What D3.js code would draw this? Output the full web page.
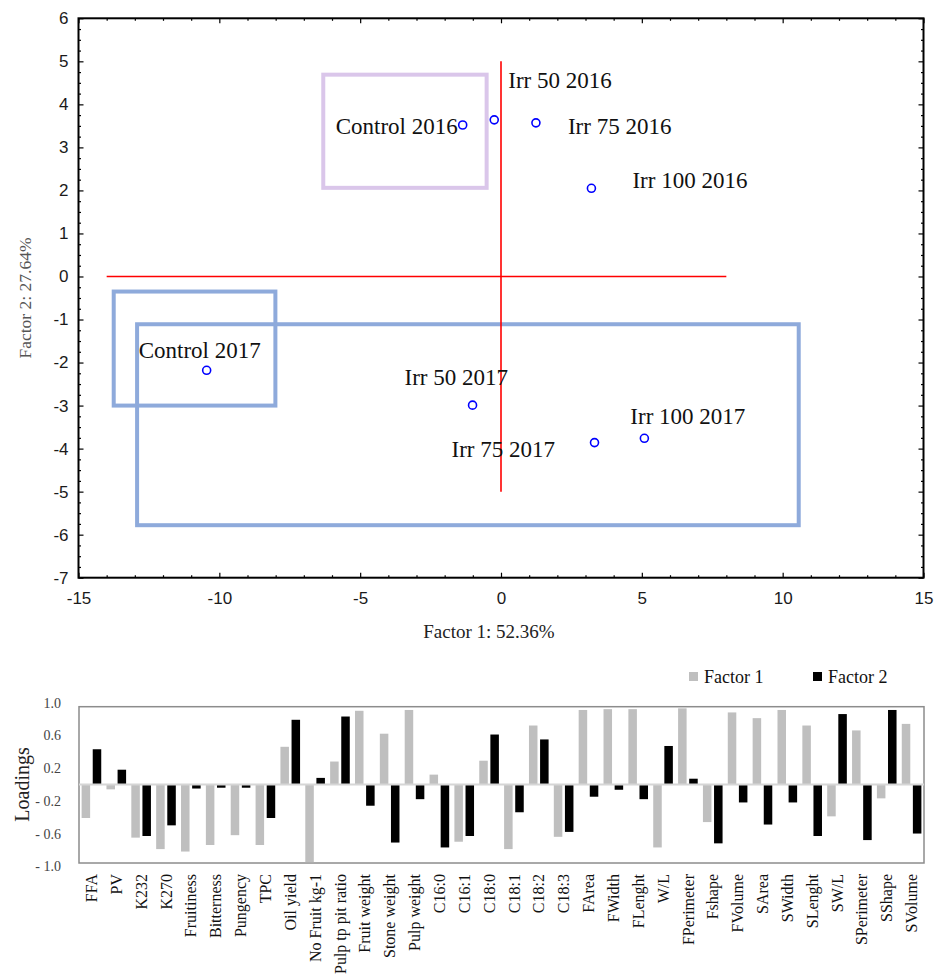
<!DOCTYPE html>
<html>
<head>
<meta charset="utf-8">
<script src="https://cdn.jsdelivr.net/npm/d3@7"></script>
<style>
  body { margin: 0; background: #fff; }
  svg { display: block; }
</style>
</head>
<body>
<svg id="chart" width="934" height="976"></svg>
<script>
// ---- score plot data ----
const sampleNames = ["Control 2016", "Irr 50 2016", "Irr 75 2016", "Irr 100 2016",
                     "Control 2017", "Irr 50 2017", "Irr 75 2017", "Irr 100 2017"];
const factor1Scores = [-1.36, -0.24, 1.24, 3.21, -10.45, -1.01, 3.32, 5.09];
const factor2Scores = [3.52, 3.64, 3.57, 2.05, -2.18, -2.99, -3.86, -3.76];

// group boxes drawn round the samples (data units)
const boxX0 = [-6.31, -13.75, -12.92];
const boxX1 = [-0.51, -8.01, 10.57];
const boxY0 = [4.69, -0.35, -1.11];
const boxY1 = [2.06, -3.00, -5.78];

// red reference cross
const crossXRange = [-14, 8];
const crossYRange = [5, -5];

// ---- loadings data ----
const categories = ["FFA", "PV", "K232", "K270", "Fruitiness", "Bitterness", "Pungency", "TPC",
  "Oil yield", "No Fruit kg-1", "Pulp tp pit ratio", "Fruit weight", "Stone weight", "Pulp weight",
  "C16:0", "C16:1", "C18:0", "C18:1", "C18:2", "C18:3", "FArea", "FWidth", "FLenght", "W/L",
  "FPerimeter", "Fshape", "FVolume", "SArea", "SWidth", "SLenght", "SW/L", "SPerimeter", "SShape", "SVolume"];
const factor1Loadings = [-0.41, -0.06, -0.65, -0.79, -0.82, -0.74, -0.62, -0.74,
  0.46, -0.95, 0.28, 0.90, 0.62, 0.91,
  0.12, -0.70, 0.29, -0.79, 0.72, -0.64, 0.91, 0.92, 0.92, -0.77,
  0.93, -0.46, 0.88, 0.81, 0.91, 0.72, -0.39, 0.66, -0.17, 0.74];
const factor2Loadings = [0.43, 0.18, -0.63, -0.50, -0.05, -0.04, -0.04, -0.41,
  0.79, 0.08, 0.83, -0.26, -0.71, -0.18,
  -0.77, -0.63, 0.61, -0.34, 0.55, -0.58, -0.15, -0.065, -0.18, 0.47,
  0.07, -0.72, -0.22, -0.49, -0.22, -0.63, 0.86, -0.68, 0.91, -0.60];
const loadingTicks = [1.0, 0.6, 0.2, -0.2, -0.6, -1.0];
const seriesNames = ["Factor 1", "Factor 2"];

const svg = d3.select('#chart');
const serif = '"Liberation Serif", "Times New Roman", serif';
const sans = '"Liberation Sans", Arial, sans-serif';

// ================= score plot =================
const x = d3.scaleLinear().domain([-15, 15]).range([78.5, 923.5]);
const y = d3.scaleLinear().domain([-7, 6]).range([577.7, 18.3]);

const score = svg.append('g');

score.selectAll('rect.box')
  .data(d3.range(boxX0.length))
  .join('rect')
  .attr('class', 'box')
  .attr('x', i => x(boxX0[i]))
  .attr('y', i => y(boxY0[i]))
  .attr('width', i => x(boxX1[i]) - x(boxX0[i]))
  .attr('height', i => y(boxY1[i]) - y(boxY0[i]))
  .attr('fill', 'none')
  .attr('stroke', (d, i) => i === 0 ? '#dac6ea' : '#8eaadb')
  .attr('stroke-width', 4);

score.append('line')
  .attr('x1', x(crossXRange[0])).attr('x2', x(crossXRange[1]))
  .attr('y1', y(0)).attr('y2', y(0))
  .attr('stroke', '#ff0000').attr('stroke-width', 1.6);
score.append('line')
  .attr('x1', x(0)).attr('x2', x(0))
  .attr('y1', y(crossYRange[0])).attr('y2', y(crossYRange[1]))
  .attr('stroke', '#ff0000').attr('stroke-width', 1.6);

// pixel offsets of each label from its point
const labelOffset = [[-127, 1], [14, -40], [32, 3], [41, -8], [-68, -20], [-68, -28], [-143, 6], [-14, -22]];

score.selectAll('text.sample')
  .data(sampleNames)
  .join('text')
  .attr('class', 'sample')
  .attr('x', (d, i) => x(factor1Scores[i]) + labelOffset[i][0])
  .attr('y', (d, i) => y(factor2Scores[i]) + labelOffset[i][1])
  .attr('dy', '0.35em')
  .style('font-family', serif)
  .style('font-size', '23px')
  .attr('fill', '#111')
  .text(d => d);

score.selectAll('circle.pt')
  .data(sampleNames)
  .join('circle')
  .attr('class', 'pt')
  .attr('cx', (d, i) => x(factor1Scores[i]))
  .attr('cy', (d, i) => y(factor2Scores[i]))
  .attr('r', 4)
  .attr('fill', 'none')
  .attr('stroke', '#0000ff')
  .attr('stroke-width', 1.6);

// axes with inward ticks
const yMajor = d3.range(-7, 7);
const yMinor = d3.range(-7, 6.001, 0.25).filter(v => Math.abs(v - Math.round(v)) > 1e-6);
const xMajor = d3.range(-15, 16, 5);
const xMinor = d3.range(-15, 16).filter(v => v % 5 !== 0);
const plain = d => String(d);

function addAxis(axis, tx, ty) {
  const g = score.append('g').attr('transform', `translate(${tx},${ty})`).call(axis);
  g.select('.domain').remove();
  g.selectAll('line').attr('stroke', '#000').attr('stroke-width', 1.2);
  g.selectAll('text').style('font-family', sans).style('font-size', '17px').attr('fill', '#1a1a1a');
  return g;
}

addAxis(d3.axisLeft(y).tickValues(yMajor).tickSize(-5).tickPadding(10).tickFormat(plain), x(-15), 0);
addAxis(d3.axisLeft(y).tickValues(yMinor).tickSize(-2.5).tickFormat(''), x(-15), 0);
addAxis(d3.axisRight(y).tickValues(yMajor).tickSize(-5).tickFormat(''), x(15), 0);
addAxis(d3.axisRight(y).tickValues(yMinor).tickSize(-2.5).tickFormat(''), x(15), 0);
addAxis(d3.axisBottom(x).tickValues(xMajor).tickSize(-5).tickPadding(14).tickFormat(plain), 0, y(-7));
addAxis(d3.axisBottom(x).tickValues(xMinor).tickSize(-2.5).tickFormat(''), 0, y(-7));
addAxis(d3.axisTop(x).tickValues(xMajor).tickSize(-5).tickFormat(''), 0, y(6));
addAxis(d3.axisTop(x).tickValues(xMinor).tickSize(-2.5).tickFormat(''), 0, y(6));

score.append('rect')
  .attr('x', x(-15)).attr('y', y(6))
  .attr('width', x(15) - x(-15)).attr('height', y(-7) - y(6))
  .attr('fill', 'none').attr('stroke', '#000').attr('stroke-width', 2);

score.append('text')
  .attr('x', (x(-15) + x(15)) / 2 - 12)
  .attr('y', 638)
  .attr('text-anchor', 'middle')
  .style('font-family', serif).style('font-size', '19px').attr('fill', '#222')
  .text('Factor 1: 52.36%');

score.append('text')
  .attr('transform', `translate(31,${y(-0.5)}) rotate(-90)`)
  .attr('text-anchor', 'middle')
  .style('font-family', serif).style('font-size', '17.5px').attr('fill', '#555')
  .text('Factor 2: 27.64%');

// ================= loadings bar chart =================
const x0 = d3.scaleBand().domain(categories).range([79, 924]).paddingInner(0.21).paddingOuter(0.105);
const x1 = d3.scaleBand().domain(seriesNames).range([0, x0.bandwidth()]).paddingInner(0.234);
const yL = d3.scaleLinear().domain([-0.96, 0.95]).range([863, 706.7]);
const barColor = d3.scaleOrdinal().domain(seriesNames).range(['#bfbfbf', '#000000']);

const loadings = svg.append('g');

loadings.append('rect')
  .attr('x', 79).attr('y', yL(0.95))
  .attr('width', 924 - 79).attr('height', yL(-0.96) - yL(0.95))
  .attr('fill', 'none').attr('stroke', '#8c8c8c').attr('stroke-width', 1.5);

const groups = loadings.selectAll('g.cat')
  .data(categories)
  .join('g')
  .attr('class', 'cat')
  .attr('transform', d => `translate(${x0(d)},0)`);

groups.selectAll('rect')
  .data((d, i) => [
    { key: seriesNames[0], v: factor1Loadings[i] },
    { key: seriesNames[1], v: factor2Loadings[i] }
  ])
  .join('rect')
  .attr('x', d => x1(d.key))
  .attr('width', x1.bandwidth())
  .attr('y', d => yL(Math.max(0, d.v)))
  .attr('height', d => Math.abs(yL(d.v) - yL(0)))
  .attr('fill', d => barColor(d.key));

loadings.append('line')
  .attr('x1', 79).attr('x2', 924)
  .attr('y1', yL(0)).attr('y2', yL(0))
  .attr('stroke', '#d6d6d6').attr('stroke-width', 2);

const yAxisL = loadings.append('g')
  .attr('transform', 'translate(79,0)')
  .call(d3.axisLeft(yL).tickValues(loadingTicks).tickSize(0).tickPadding(18)
    .tickFormat(d => d < 0 ? '- ' + Math.abs(d).toFixed(1) : d.toFixed(1)));
yAxisL.select('.domain').remove();
yAxisL.selectAll('text').style('font-family', serif).style('font-size', '14px').attr('fill', '#444');

const xAxisL = loadings.append('g')
  .attr('transform', `translate(0,${yL(-0.96)})`)
  .call(d3.axisBottom(x0).tickSize(0));
xAxisL.select('.domain').remove();
xAxisL.selectAll('text')
  .attr('transform', 'rotate(-90)')
  .attr('text-anchor', 'end')
  .attr('x', -11)
  .attr('y', 0)
  .attr('dy', '0.35em')
  .style('font-family', serif).style('font-size', '16px').attr('fill', '#111');

loadings.append('text')
  .attr('transform', `translate(29,${yL(0)}) rotate(-90)`)
  .attr('text-anchor', 'middle')
  .style('font-family', serif).style('font-size', '20px').attr('fill', '#222')
  .text('Loadings');

// legend
const legendX = [689, 813];
const legend = loadings.selectAll('g.legend')
  .data(seriesNames)
  .join('g')
  .attr('class', 'legend')
  .attr('transform', (d, i) => `translate(${legendX[i]},672)`);
legend.append('rect').attr('width', 9).attr('height', 9).attr('fill', d => barColor(d));
legend.append('text')
  .attr('x', 15).attr('y', 10.5)
  .style('font-family', serif).style('font-size', '18px').attr('fill', '#111')
  .text(d => d);
</script>
</body>
</html>
